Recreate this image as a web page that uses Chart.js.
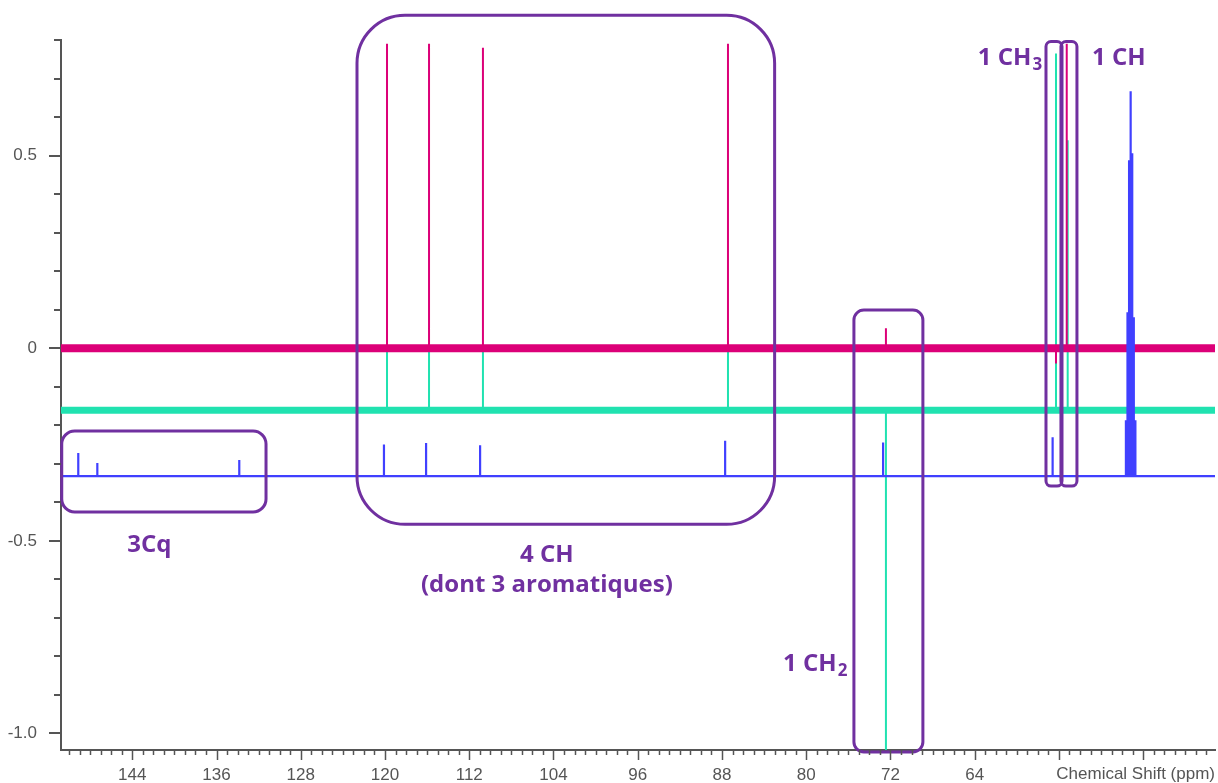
<!DOCTYPE html>
<html>
<head>
<meta charset="utf-8">
<script src="https://cdn.jsdelivr.net/npm/chart.js@4.4.1/dist/chart.umd.min.js"></script>
<style>
  html, body { margin: 0; padding: 0; background: #fff; }
</style>
</head>
<body>
<canvas id="Chart_1" width="1218" height="783"></canvas>
<script>
// window of the spectrum (ppm, x axis reversed) and intensity range
var ppmMin = 41.18, ppmMax = 150.77;
var yMin = -1.043, yMax = 0.8;

// DEPT-90 (magenta): baseline + peak tips
var dept90Base = 0;
var dept90Ppm = [119.81, 115.82, 110.70, 87.43, 72.43, 56.28, 55.26];
var dept90Top = [0.79, 0.79, 0.78, 0.79, 0.052, -0.04, 0.79];

// DEPT-135 (green)
var dept135Base = -0.161;
var dept135Ppm = [119.81, 115.82, 110.70, 87.43, 72.43, 56.28, 55.17];
var dept135Top = [0.0, 0.0, 0.0, 0.0, -1.043, 0.765, 0.54];

// 13C (blue), last seven are the solvent septet
var c13Base = -0.332;
var c13Ppm = [149.13, 147.32, 133.84, 120.10, 116.10, 110.97, 87.70, 72.70, 56.60,
              49.64, 49.49, 49.34, 49.19, 49.04, 48.89, 48.74];
var c13Top = [-0.272, -0.298, -0.29, -0.25, -0.246, -0.252, -0.24, -0.245, -0.231,
              -0.187, 0.093, 0.488, 0.667, 0.506, 0.080, -0.187];

// tick labels
var xMajor = [144, 136, 128, 120, 112, 104, 96, 88, 80, 72, 64];
var yMajor = [0.5, 0, -0.5, -1.0];
var yMajorText = ['0.5', '0', '-0.5', '-1.0'];

var axisColor = '#555';
var purple = '#7030a0';

// turn peak lists into a stick spectrum
function sticks(ppm, top, base) {
  var pts = [{x: ppmMax, y: base}];
  var idx = ppm.map(function (p, i) { return i; });
  idx.sort(function (a, b) { return ppm[b] - ppm[a]; });
  idx.forEach(function (i) {
    pts.push({x: ppm[i], y: base});
    pts.push({x: ppm[i], y: top[i]});
    pts.push({x: ppm[i], y: base});
  });
  pts.push({x: ppmMin, y: base});
  return pts;
}
function band(base) {
  return [{x: ppmMax, y: base}, {x: ppmMin, y: base}];
}

// boxes and notes (in ppm / intensity units)
var boxes = [
  {x1: 150.7, x2: 131.3, y1: -0.215, y2: -0.425, r: 13},
  {x1: 122.66, x2: 83.0, y1: 0.864, y2: -0.457, r: 48},
  {x1: 75.47, x2: 68.92, y1: 0.099, y2: -1.048, r: 10},
  {x1: 57.23, x2: 55.71, y1: 0.796, y2: -0.358, r: 5},
  {x1: 55.81, x2: 54.29, y1: 0.796, y2: -0.358, r: 5}
];
var notes = [
  {text: '3Cq', sub: '', x: 142.37, y: -0.528, align: 'center'},
  {text: '4 CH', sub: '', x: 104.63, y: -0.556, align: 'center'},
  {text: '(dont 3 aromatiques)', sub: '', x: 104.63, y: -0.633, align: 'center'},
  {text: '1 CH', sub: '2', x: 82.2, y: -0.838, align: 'left'},
  {text: '1 CH', sub: '3', x: 63.7, y: 0.735, align: 'left'},
  {text: '1 CH', sub: '', x: 52.86, y: 0.735, align: 'left'}
];

function roundBox(ctx, x, y, w, h, r) {
  ctx.beginPath();
  ctx.moveTo(x + r, y);
  ctx.arcTo(x + w, y, x + w, y + h, r);
  ctx.arcTo(x + w, y + h, x, y + h, r);
  ctx.arcTo(x, y + h, x, y, r);
  ctx.arcTo(x, y, x + w, y, r);
  ctx.closePath();
  ctx.stroke();
}

var annotations = {
  id: 'annotations',
  afterDatasetsDraw: function (chart) {
    var ctx = chart.ctx, xs = chart.scales.x, ys = chart.scales.y;
    ctx.save();
    ctx.strokeStyle = purple;
    ctx.lineWidth = 3;
    boxes.forEach(function (b) {
      var l = xs.getPixelForValue(b.x1), r = xs.getPixelForValue(b.x2);
      var t = ys.getPixelForValue(b.y1), bt = ys.getPixelForValue(b.y2);
      roundBox(ctx, l, t, r - l, bt - t, b.r);
    });
    ctx.fillStyle = purple;
    ctx.textBaseline = 'alphabetic';
    notes.forEach(function (n) {
      var px = xs.getPixelForValue(n.x), py = ys.getPixelForValue(n.y);
      ctx.font = 'bold 24px "Open Sans", sans-serif';
      ctx.textAlign = n.align;
      ctx.fillText(n.text, px, py);
      if (n.sub) {
        var w = ctx.measureText(n.text).width;
        ctx.font = 'bold 17px "Open Sans", sans-serif';
        ctx.textAlign = 'left';
        ctx.fillText(n.sub, px + w + 1, py + 5);
      }
    });
    ctx.restore();
  }
};

var tickMarks = {
  id: 'tickMarks',
  afterDraw: function (chart) {
    var ctx = chart.ctx, xs = chart.scales.x, ys = chart.scales.y, a = chart.chartArea;
    ctx.save();
    ctx.strokeStyle = axisColor;
    ctx.lineWidth = 1.5;
    xs.ticks.forEach(function (t) {
      var px = Math.round(xs.getPixelForValue(t.value)) + 0.5;
      var len = t.value % 8 === 0 ? 10 : 5;
      ctx.beginPath();
      ctx.moveTo(px, a.bottom);
      ctx.lineTo(px, a.bottom + len);
      ctx.stroke();
    });
    ctx.lineWidth = 2;
    ys.ticks.forEach(function (t) {
      var py = Math.round(ys.getPixelForValue(t.value));
      var major = Math.abs(t.value * 2 - Math.round(t.value * 2)) < 1e-6;
      ctx.beginPath();
      ctx.moveTo(a.left, py);
      ctx.lineTo(a.left - (major ? 12 : 7), py);
      ctx.stroke();
    });
    // axis title sits on the tick label row
    ctx.fillStyle = axisColor;
    ctx.font = '17px "Liberation Sans", Arial, sans-serif';
    ctx.textAlign = 'right';
    ctx.textBaseline = 'alphabetic';
    ctx.fillText('Chemical Shift (ppm)', a.right, a.bottom + 29);
    ctx.restore();
  }
};

var tickFont = {family: '"Liberation Sans", Arial, sans-serif', size: 17};

var ctx = document.getElementById('Chart_1');
var chart = new Chart(ctx, {
  type: 'scatter',
  data: {
    datasets: [
      {label: '13C', data: sticks(c13Ppm, c13Top, c13Base), borderColor: '#4040ff', borderWidth: 2.2},
      {label: 'DEPT-90', data: sticks(dept90Ppm, dept90Top, dept90Base), borderColor: '#dc0078', borderWidth: 2},
      {label: 'DEPT-90 bruit', data: band(dept90Base), borderColor: '#dc0078', borderWidth: 8},
      {label: 'DEPT-135', data: sticks(dept135Ppm, dept135Top, dept135Base), borderColor: '#20e2b0', borderWidth: 2},
      {label: 'DEPT-135 bruit', data: band(dept135Base), borderColor: '#20e2b0', borderWidth: 7}
    ]
  },
  options: {
    responsive: false,
    animation: false,
    devicePixelRatio: 1,
    showLine: true,
    elements: {point: {radius: 0, hoverRadius: 0}, line: {tension: 0, fill: false}},
    layout: {padding: {top: 40, right: 3, bottom: 0, left: 0}},
    plugins: {legend: {display: false}, tooltip: {enabled: false}},
    events: [],
    scales: {
      x: {
        type: 'linear',
        reverse: true,
        min: ppmMin,
        max: ppmMax,
        afterBuildTicks: function (s) {
          var t = [];
          for (var v = Math.ceil(ppmMin); v <= Math.floor(ppmMax); v++) t.push({value: v});
          s.ticks = t;
        },
        afterFit: function (s) { s.height = 33; },
        grid: {display: false},
        border: {display: true, color: axisColor, width: 2},
        ticks: {
          autoSkip: false, maxRotation: 0, minRotation: 0, padding: 7,
          color: axisColor, font: tickFont,
          callback: function (v) {
            var i = xMajor.indexOf(v);
            return i >= 0 ? String(xMajor[i]) : '';
          }
        }
      },
      y: {
        type: 'linear',
        min: yMin,
        max: yMax,
        afterBuildTicks: function (s) {
          var t = [];
          for (var k = -10; k <= 8; k++) t.push({value: k / 10});
          s.ticks = t;
        },
        afterFit: function (s) { s.width = 61; },
        grid: {display: false},
        border: {display: true, color: axisColor, width: 2},
        ticks: {
          autoSkip: false, padding: 16,
          color: axisColor, font: tickFont,
          callback: function (v) {
            for (var i = 0; i < yMajor.length; i++) {
              if (Math.abs(v - yMajor[i]) < 1e-6) return yMajorText[i];
            }
            return '';
          }
        }
      }
    }
  },
  plugins: [annotations, tickMarks]
});
</script>
</body>
</html>
